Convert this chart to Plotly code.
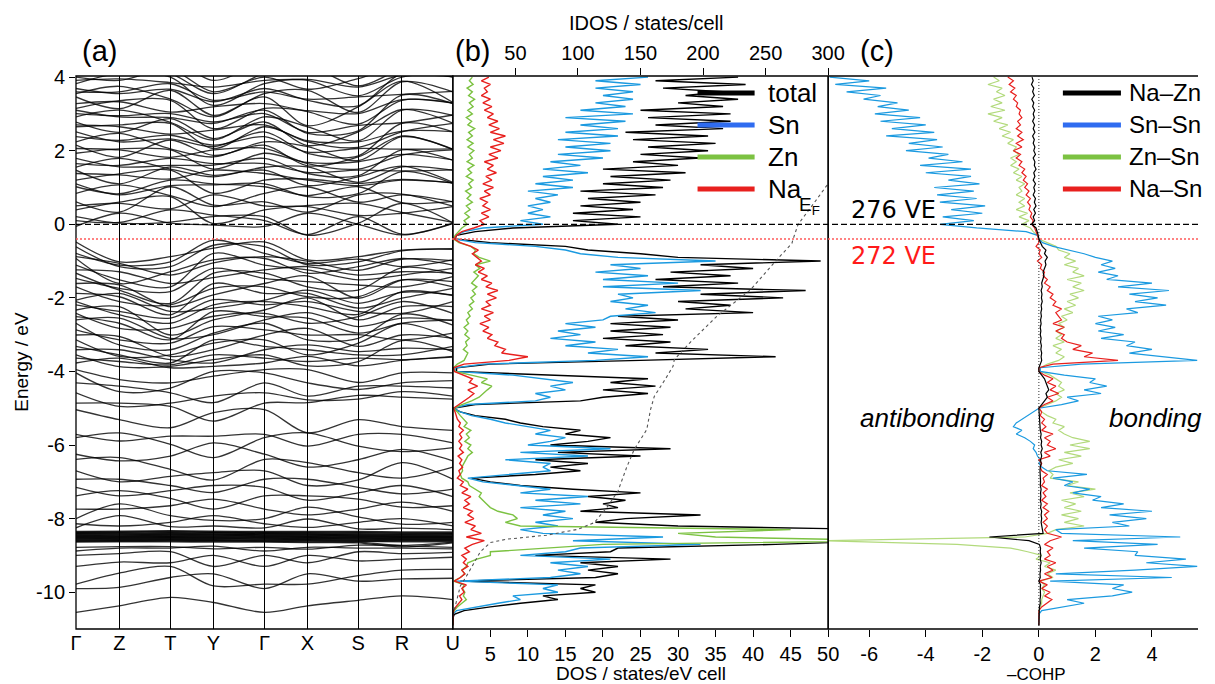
import numpy as np
import plotly.graph_objects as go

# ---------------- band structure: eigenvalues (eV) at the high-symmetry points ----------------
# each list is given in band order, so entry i of every k-point belongs to the same band line
kpoint_labels = ["Γ", "Z", "T", "Y", "Γ", "X", "S", "R", "U"]
kpoint_dist = [0.0, 0.115, 0.2505, 0.3647, 0.5, 0.6143, 0.749, 0.865, 1.0]
path = ["G", "Z", "T", "Y", "G", "X", "S", "R", "U"]

bands_low = {
    "G": [-10.55, -9.90, -9.78, -9.30, -9.00, -8.88, -8.78],
    "Z": [-10.37, -9.87, -9.48, -9.18, -8.95, -8.80, -8.76],
    "T": [-10.14, -9.60, -9.30, -9.20, -8.90, -8.80, -8.76],
    "Y": [-10.28, -9.50, -9.83, -9.00, -9.30, -8.75, -8.82],
    "X": [-10.37, -9.50, -9.78, -9.00, -9.20, -8.78, -8.83],
    "S": [-10.22, -9.70, -9.55, -9.15, -8.90, -8.80, -8.72],
    "R": [-10.10, -9.64, -9.40, -9.10, -8.95, -8.80, -8.74],
    "U": [-10.20, -9.62, -9.38, -9.05, -8.92, -8.82, -8.78],
}

bands_d = {
    "G": [-8.64, -8.62, -8.61, -8.59, -8.58, -8.56, -8.55, -8.53, -8.52, -8.50, -8.49, -8.47, -8.46, -8.44, -8.43, -8.41, -8.40, -8.38, -8.37, -8.35],
    "Z": [-8.63, -8.62, -8.60, -8.59, -8.57, -8.56, -8.54, -8.53, -8.51, -8.50, -8.48, -8.47, -8.45, -8.44, -8.42, -8.41, -8.39, -8.37, -8.36, -8.34],
    "T": [-8.63, -8.61, -8.60, -8.58, -8.57, -8.55, -8.54, -8.52, -8.51, -8.49, -8.48, -8.46, -8.45, -8.43, -8.42, -8.40, -8.39, -8.37, -8.35, -8.33],
    "Y": [-8.64, -8.62, -8.60, -8.59, -8.57, -8.56, -8.54, -8.53, -8.51, -8.50, -8.48, -8.46, -8.45, -8.43, -8.42, -8.40, -8.38, -8.37, -8.36, -8.34],
    "X": [-8.65, -8.63, -8.61, -8.60, -8.58, -8.57, -8.55, -8.54, -8.52, -8.51, -8.49, -8.48, -8.46, -8.45, -8.43, -8.42, -8.40, -8.39, -8.37, -8.35],
    "S": [-8.66, -8.64, -8.62, -8.61, -8.59, -8.58, -8.56, -8.55, -8.53, -8.52, -8.50, -8.49, -8.47, -8.46, -8.44, -8.43, -8.41, -8.39, -8.37, -8.35],
    "R": [-8.77, -8.73, -8.63, -8.61, -8.60, -8.58, -8.57, -8.55, -8.54, -8.52, -8.51, -8.49, -8.48, -8.46, -8.45, -8.43, -8.42, -8.40, -8.38, -8.36],
    "U": [-8.66, -8.64, -8.63, -8.61, -8.60, -8.58, -8.57, -8.55, -8.54, -8.52, -8.51, -8.49, -8.48, -8.46, -8.44, -8.43, -8.41, -8.40, -8.38, -8.36],
}

bands_mid = {
    "G": [-8.25, -8.14, -8.00, -7.74, -7.38, -7.15, -6.93, -6.70, -6.39, -6.25, -5.80, -5.71],
    "Z": [-7.92, -8.20, -7.60, -7.74, -7.24, -7.38, -6.93, -7.00, -6.34, -6.43, -5.67, -5.89],
    "T": [-8.22, -8.10, -7.92, -7.65, -7.45, -7.24, -7.10, -6.85, -6.66, -6.30, -5.98, -5.76],
    "Y": [-8.20, -7.92, -8.05, -7.47, -7.74, -7.10, -7.29, -6.75, -6.95, -5.94, -6.34, -5.76],
    "X": [-8.01, -8.24, -7.69, -7.90, -7.38, -7.50, -6.93, -7.10, -6.48, -6.60, -5.67, -6.03],
    "S": [-8.28, -8.10, -7.95, -7.74, -7.47, -7.30, -7.15, -6.95, -6.75, -6.40, -6.03, -5.71],
    "R": [-8.26, -8.00, -8.15, -7.55, -7.69, -7.10, -7.33, -6.48, -6.90, -6.12, -6.18, -5.71],
    "U": [-8.30, -8.20, -8.10, -7.80, -7.65, -7.40, -7.20, -6.93, -6.60, -6.43, -6.07, -5.94],
}

bands_sp = {
    "G": [-5.04, -4.86, -4.58, -4.31, -4.04, -3.95],
    "Z": [-5.31, -4.86, -4.95, -4.40, -4.55, -4.22],
    "T": [-5.53, -4.95, -4.86, -4.58, -4.45, -4.31],
    "Y": [-5.12, -5.35, -4.67, -4.85, -4.00, -4.13],
    "X": [-5.67, -4.85, -4.77, -4.67, -4.31, -3.95],
    "S": [-5.31, -4.65, -4.75, -4.40, -4.49, -4.30],
    "R": [-5.50, -4.70, -4.55, -4.40, -4.31, -4.04],
    "U": [-5.60, -4.75, -4.67, -4.45, -4.25, -4.04],
}

bands_valence = {
    "G": [-3.77, -3.64, -3.55, -3.41, -3.32, -3.14, -3.01, -2.87, -2.69, -2.60, -2.51, -2.42, -2.33, -2.19,
          -2.10, -2.06, -1.88, -1.70, -1.61, -1.47, -1.33, -1.24, -1.11, -0.93, -0.88, -0.79, -0.61, -0.48],
    "Z": [-3.64, -3.73, -3.87, -3.41, -3.55, -3.59, -3.05, -3.14, -3.28, -2.55, -2.69, -2.83, -2.24, -2.37,
          -2.46, -1.88, -1.97, -2.10, -1.65, -1.74, -1.79, -1.29, -1.51, -1.61, -1.06, -1.11, -1.15, -1.02],
    "T": [-3.90, -3.82, -3.86, -3.68, -3.77, -3.55, -3.59, -3.23, -3.41, -3.10, -3.14, -2.83, -3.01, -2.55,
          -2.69, -2.37, -2.46, -2.19, -2.24, -1.83, -2.15, -1.61, -1.70, -1.29, -1.38, -1.02, -1.15, -0.88],
    "Y": [-3.86, -3.55, -3.68, -3.77, -3.14, -3.23, -3.41, -2.78, -2.96, -3.00, -2.37, -2.50, -2.60, -2.05,
          -2.19, -2.28, -1.61, -1.74, -1.92, -1.20, -1.33, -1.45, -0.79, -0.97, -1.05, -0.43, -0.57, -0.65],
    "X": [-3.59, -3.73, -3.85, -3.28, -3.41, -3.55, -2.83, -3.01, -3.14, -2.40, -2.55, -2.69, -2.00, -2.10,
          -2.24, -1.79, -1.88, -1.97, -1.40, -1.56, -1.70, -1.15, -1.24, -1.33, -1.00, -1.06, -1.10, -0.97],
    "S": [-3.85, -3.64, -3.73, -3.46, -3.55, -3.23, -3.32, -3.00, -3.10, -2.78, -2.96, -2.51, -2.60, -2.37,
          -2.45, -2.15, -2.28, -1.97, -2.01, -1.65, -1.79, -1.38, -1.51, -1.15, -1.25, -0.95, -1.02, -0.88],
    "R": [-3.70, -3.68, -3.16, -3.37, -3.55, -2.70, -3.01, -3.14, -2.44, -2.55, -2.69, -2.10, -2.24, -2.42,
          -1.83, -1.85, -2.01, -1.51, -1.52, -1.70, -1.18, -1.29, -1.38, -0.93, -0.95, -1.15, -0.72, -0.70],
    "U": [-3.61, -3.59, -3.46, -3.41, -3.32, -3.12, -3.10, -2.96, -2.74, -2.62, -2.60, -2.42, -2.24, -2.10,
          -1.94, -1.92, -1.74, -1.70, -1.56, -1.42, -1.35, -1.33, -1.20, -1.11, -0.99, -0.97, -0.68, -0.66],
}

bands_conduction = {
    "G": [-0.06, 0.10, 0.21, 0.39, 0.50, 0.61, 0.84, 1.02, 1.10, 1.20, 1.38, 1.47, 1.55, 1.65, 1.79, 1.93, 2.06, 2.15, 2.24, 2.38,
          2.51, 2.65, 2.70, 2.78, 2.92, 3.01, 3.10, 3.15, 3.28, 3.46, 3.55, 3.60, 3.69, 3.82, 3.91, 4.00, 4.10, 4.20, 4.30, 4.40],
    "Z": [0.30, 0.05, 0.03, 0.60, 0.57, 0.33, 1.07, 0.83, 0.80, 1.37, 1.34, 1.10, 1.79, 1.60, 1.56, 2.05, 2.02, 1.82, 2.47, 2.28,
          2.24, 2.70, 2.65, 2.50, 3.10, 2.95, 2.92, 3.36, 3.33, 3.14, 3.75, 3.60, 3.55, 4.10, 3.95, 3.91, 4.40, 4.30, 4.20, 4.50],
    "T": [0.03, 0.39, 0.06, 0.75, 0.42, 1.02, 0.78, 1.20, 1.05, 1.47, 1.23, 1.56, 1.50, 1.79, 1.60, 2.02, 1.82, 2.29, 2.05, 2.42,
          2.32, 2.74, 2.45, 2.87, 2.77, 3.01, 2.90, 3.37, 3.05, 3.64, 3.40, 3.82, 3.67, 4.00, 3.85, 4.20, 4.10, 4.40, 4.30, 4.50],
    "Y": [-0.02, 0.25, 0.21, 0.02, 0.80, 0.52, 0.48, 1.10, 1.07, 0.84, 1.47, 1.33, 1.29, 1.65, 1.61, 1.50, 2.02, 1.87, 1.83, 2.15,
          2.11, 2.06, 2.56, 2.33, 2.29, 2.78, 2.74, 2.60, 3.19, 2.96, 2.92, 3.37, 3.33, 3.23, 3.73, 3.60, 3.55, 4.30, 4.10, 3.91],
    "X": [0.30, -0.28, -0.30, 0.51, 0.48, 0.33, 1.02, 0.78, 0.75, 1.23, 1.20, 1.05, 1.56, 1.41, 1.38, 1.68, 1.65, 1.59, 2.11, 1.96,
          1.93, 2.27, 2.24, 2.14, 2.65, 2.50, 2.47, 3.09, 3.06, 2.68, 3.64, 3.40, 3.37, 3.94, 3.91, 3.67, 4.30, 4.20, 4.10, 4.40],
    "S": [0.00, 0.21, 0.03, 0.57, 0.24, 0.80, 0.60, 1.02, 0.83, 1.11, 1.05, 1.29, 1.14, 1.47, 1.32, 1.70, 1.50, 1.83, 1.73, 2.06,
          1.86, 2.24, 2.09, 2.51, 2.27, 2.69, 2.54, 3.01, 2.72, 3.19, 3.04, 3.46, 3.22, 3.73, 3.49, 3.96, 3.76, 4.25, 4.10, 4.40],
    "R": [-0.29, -0.27, 0.57, 0.32, 0.30, 0.82, 0.80, 0.59, 1.43, 1.22, 1.20, 1.58, 1.56, 1.45, 2.02, 1.90, 1.88, 2.40, 2.38, 2.04,
          2.74, 2.53, 2.51, 3.12, 3.10, 2.76, 3.51, 3.39, 3.37, 3.89, 3.87, 3.53, 4.10, 4.05, 4.00, 4.30, 4.20, 4.15, 4.40, 4.50],
    "U": [0.02, 0.03, 0.04, 0.05, 0.48, 0.49, 0.61, 0.62, 1.11, 1.12, 1.13, 1.14, 1.47, 1.48, 1.74, 1.75, 2.02, 2.03, 2.04, 2.05,
          2.51, 2.52, 2.74, 2.75, 2.96, 2.97, 3.28, 3.29, 3.30, 3.31, 3.60, 3.61, 4.00, 4.01, 4.10, 4.15, 4.20, 4.30, 4.40, 4.50],
}

# ---------------- DOS (states/eV cell) on a 0.1 eV grid from -10.9 to 4.0 eV ----------------
energy = np.round(np.linspace(-10.9, 4.0, 150), 2)

dos_total = [
    0, 0, 0, 0.2, 1.5, 5, 9, 14, 12, 19,
    17, 19, 1, 19, 22, 18, 22, 17, 29, 11,
    21, 22, 43, 58, 62, 50, 58, 30, 19, 23,
    33, 17, 22, 20, 23, 18, 25, 16, 9, 5,
    2.5, 11, 17, 13, 18, 11, 25, 14, 29, 13,
    18, 21, 15, 17, 12, 9, 7, 3, 1, 0,
    3, 17, 20, 26, 20, 27, 21, 26, 12, 0.5,
    0.5, 5, 25, 43, 27, 34, 23, 29, 20, 28,
    21, 29, 21, 30, 22, 40, 31, 37, 30, 44,
    33, 47, 28, 38, 27, 37, 29, 40, 33, 49,
    30, 25, 18, 15, 5, 0.3, 0.5, 3, 8, 22,
    16, 25, 16, 24, 17, 25, 18, 27, 17, 28,
    20, 29, 21, 31, 20, 30, 24, 33, 25, 34,
    26, 35, 24, 34, 23, 36, 27, 37, 26, 37,
    25, 36, 30, 38, 31, 36, 28, 39, 27, 38,
]
dos_sn = [
    0, 0, 0, 0, 0.5, 3, 6, 9, 8, 14,
    12, 14, 0.5, 13, 17, 14, 18, 13, 21, 9,
    15, 17, 33, 16, 28, 12, 9, 14, 11, 16,
    12, 15, 9, 17, 11, 18, 9, 13, 8, 4,
    2, 8, 13, 12, 13, 7, 18, 9, 21, 10,
    13, 15, 11, 13, 10, 7, 5, 2.5, 1, 0,
    2, 11, 13, 11, 15, 13, 16, 12, 8, 0.3,
    0.3, 4, 19, 26, 18, 22, 15, 19, 13, 17,
    14, 19, 15, 20, 21, 27, 23, 26, 21, 24,
    22, 33, 20, 30, 20, 26, 19, 25, 21, 35,
    22, 17, 15, 11, 3, 0.2, 0.4, 1.5, 4, 12,
    9, 13, 10, 12, 10, 13, 11, 14, 10, 16,
    11, 16, 12, 18, 12, 17, 13, 20, 14, 21,
    15, 21, 14, 22, 15, 22, 17, 23, 15, 24,
    17, 23, 19, 24, 20, 24, 19, 25, 19, 26,
]
dos_zn = [
    0, 0, 0, 0, 0.2, 0.6, 1.2, 1.8, 1.4, 1.6,
    1.3, 1.5, 0.1, 1.0, 1.6, 1.2, 1.8, 2.0, 3.2, 5,
    5, 12, 20, 60, 35, 30, 45, 9, 7, 8.6,
    8, 6, 5, 4.5, 4, 3.5, 3.8, 3, 2.2, 2.0,
    1.2, 1.0, 1.3, 1.2, 1.5, 1.8, 2.0, 2.6, 2.0, 2.4,
    1.6, 2.2, 1.8, 2.4, 1.5, 1.9, 1.4, 1.0, 0.6, 0.1,
    1.2, 2.5, 3.5, 4.0, 4.6, 5.2, 3.8, 4.6, 2.6, 0.3,
    0.1, 0.6, 1.5, 1.8, 2.0, 1.4, 1.9, 1.7, 2.2, 1.6,
    2.0, 1.5, 2.1, 1.8, 2.3, 2.0, 2.6, 2.2, 2.8, 2.4,
    3.0, 2.6, 3.2, 2.5, 3.0, 3.4, 2.8, 3.6, 3.0, 5.0,
    3.5, 2.8, 3.0, 2.4, 0.8, 0.1, 0.3, 0.7, 1.2, 1.9,
    1.5, 2.2, 1.6, 2.3, 1.8, 2.6, 1.9, 2.4, 1.7, 2.5,
    2.1, 2.7, 1.8, 2.5, 2.0, 2.8, 1.9, 2.6, 2.2, 2.8,
    2.0, 2.7, 1.9, 2.6, 2.1, 2.9, 2.0, 2.5, 1.8, 2.6,
    2.0, 2.7, 2.2, 2.9, 2.1, 2.6, 1.9, 2.7, 2.2, 2.6,
]
dos_na = [
    0, 0, 0, 0, 0.1, 0.4, 0.8, 1.2, 0.9, 1.5,
    1.2, 1.8, 0.2, 1.0, 1.6, 1.2, 2.0, 1.4, 1.8, 1.2,
    2.2, 1.6, 2.6, 4.2, 1.8, 3.8, 2.4, 3.0, 1.6, 2.8,
    2.0, 2.6, 1.4, 2.2, 1.6, 2.4, 1.2, 2.0, 1.0, 1.4,
    0.6, 1.0, 0.8, 1.3, 0.9, 1.2, 0.7, 1.4, 0.9, 1.2,
    0.8, 1.2, 0.9, 1.4, 0.8, 1.0, 0.6, 0.5, 0.3, 0.1,
    0.8, 1.6, 2.2, 2.8, 2.0, 3.3, 2.2, 2.6, 1.4, 0.2,
    0.1, 1.5, 7.5, 10, 6.5, 7.0, 5.6, 6.0, 4.6, 5.2,
    4.0, 4.8, 3.6, 5.0, 4.2, 5.4, 3.8, 5.0, 4.4, 5.8,
    4.6, 6.0, 4.4, 5.2, 3.8, 4.6, 3.4, 4.2, 3.0, 3.8,
    3.2, 2.6, 3.4, 2.4, 1.0, 0.2, 0.5, 1.2, 2.8, 4.2,
    3.6, 4.8, 3.8, 5.0, 4.0, 4.6, 3.6, 5.0, 4.2, 5.4,
    4.0, 5.2, 4.4, 5.8, 4.6, 5.4, 4.2, 6.0, 4.8, 6.4,
    5.0, 6.8, 5.4, 7.0, 5.0, 6.2, 4.8, 6.0, 4.6, 5.4,
    4.2, 5.2, 4.0, 5.0, 3.8, 4.6, 4.2, 5.0, 3.8, 4.8,
]

# integrated DOS (states/cell)
idos_energy = [-10.64, -10.2, -9.83, -9.5, -9.19, -8.9, -8.65, -8.56, -8.45, -8.29, -8.11, -7.66, -7.25, -6.6,
               -6.12, -5.58, -5.04, -4.68, -4.2, -3.86, -3.68, -3.2, -2.5, -1.78, -1.0, -0.52, -0.4, 0.0, 0.5, 1.15]
idos_value = [0, 3, 6, 12, 17, 22, 30, 43, 75, 100, 113, 124, 132, 139,
              145, 155, 158, 161, 170, 176, 177, 190, 211, 238, 258, 271, 272, 276, 287, 301]

# ---------------- -COHP on the same energy grid ----------------
cohp_sn_sn = [
    0, 0, 0, 0, 0.1, 0.8, 1.6, 1.0, 2.6, 3.3,
    2.6, 3.0, 0.4, 4.7, 0.6, 3.4, 5.6, 3.8, 5.2, 3.4,
    3.5, 1.6, 4.2, 1.2, 5.0, 0.8, 0.6, 3.2, 2.6, 3.8,
    2.5, 4.0, 2.2, 3.0, 1.9, 2.2, 1.2, 1.8, 0.9, 1.2,
    0.5, 1.7, 0.3, 0.1, 0.0, 0.05, -0.05, -0.1, -0.2, -0.15,
    -0.3, -0.5, -0.8, -0.6, -0.9, -0.8, -0.6, -0.4, -0.2, 0,
    0.8, 1.4, 1.0, 2.2, 1.6, 2.4, 1.8, 2.0, 0.9, 0.05,
    0.05, 1.5, 5.6, 4.3, 3.2, 4.0, 3.1, 3.4, 2.2, 3.0,
    2.1, 2.7, 2.0, 2.6, 2.1, 3.5, 3.1, 4.5, 3.4, 4.2,
    3.2, 4.6, 2.8, 4.0, 2.4, 2.8, 2.1, 2.7, 2.2, 2.6,
    2.0, 1.6, 1.0, 0.5, 0.13, 0.0, -0.05, -0.45, -2.2, -3.5,
    -2.3, -3.4, -2.0, -3.1, -1.9, -3.5, -2.2, -3.6, -2.3, -3.7,
    -2.1, -3.2, -2.4, -4.0, -2.4, -4.2, -2.7, -3.9, -3.2, -4.7,
    -3.4, -4.6, -3.6, -5.4, -3.7, -5.2, -4.0, -5.6, -4.2, -5.8,
    -4.6, -5.7, -5.0, -6.2, -5.6, -6.8, -5.4, -7.2, -6.0, -7.4,
]
cohp_zn_sn = [
    0, 0, 0, 0, 0, 0.05, 0.1, 0.1, 0.15, 0.2,
    0.1, 0.2, 0.05, 0.5, 0.3, 0.6, 0.2, 0.4, -0.1, 0.1,
    -0.4, -1.0, -2.9, -7.6, -0.5, 0.3, 0.6, 1.6, 0.9, 1.4,
    0.8, 1.5, 0.9, 1.3, 0.8, 1.6, 1.1, 2.0, 1.0, 1.4,
    0.4, 0.5, 0.35, 0.6, 1.2, 0.7, 1.5, 0.9, 1.8, 1.1,
    1.8, 1.2, 0.9, 0.7, 0.9, 0.5, 0.6, 0.3, 0.1, 0,
    0.3, 0.6, 0.8, 0.6, 0.9, 0.7, 0.8, 0.6, 0.4, 0.05,
    0.05, 0.3, 0.7, 0.9, 0.6, 0.8, 0.5, 0.9, 0.6, 0.8,
    0.6, 0.9, 0.7, 1.0, 0.8, 1.2, 0.9, 1.3, 1.0, 1.4,
    1.1, 1.6, 1.2, 1.5, 1.0, 1.6, 1.2, 1.4, 0.9, 1.3,
    0.9, 1.1, 0.7, 0.6, 0.3, 0, -0.05, -0.2, -0.3, -0.6,
    -0.35, -0.7, -0.4, -0.8, -0.5, -0.7, -0.5, -0.8, -0.6, -0.7,
    -0.5, -0.8, -0.6, -0.9, -0.7, -1.0, -0.8, -1.0, -0.7, -0.9,
    -0.8, -1.1, -0.9, -1.3, -1.0, -1.4, -1.1, -1.6, -1.3, -1.8,
    -1.2, -1.7, -1.3, -1.6, -1.2, -1.5, -1.3, -1.8, -1.4, -1.6,
]
cohp_na_sn = [
    0, 0, 0, 0, 0, 0.1, 0.3, 0.46, 0.2, 0.4,
    0.1, 0.3, 0.0, 0.46, 0.2, 0.5, 0.3, 0.6, 0.2, 0.4,
    0.3, 0.5, 0.2, 0.4, 0.8, 0.3, 0.2, 0.3, 0.15, 0.3,
    0.2, 0.35, 0.15, 0.3, 0.1, 0.25, 0.15, 0.3, 0.1, 0.2,
    0.15, 0.3, 0.1, 0.05, 0.1, 0.0, 0.4, 0.2, 0.6, 0.3,
    0.4, 0.2, 0.5, 0.1, 0.25, 0.1, 0.2, 0.05, 0.1, 0,
    0.2, 0.5, 0.3, 0.7, 0.4, 0.6, 0.3, 0.5, 0.2, 0.0,
    0.0, 0.5, 2.8, 1.6, 1.9, 1.2, 1.5, 1.0, 0.8, 0.9,
    0.6, 0.9, 0.5, 0.8, 0.7, 0.6, 0.8, 0.5, 0.6, 0.4,
    0.5, 0.3, 0.4, 0.2, 0.3, 0.15, 0.2, 0.05, 0.1, -0.05,
    0.1, 0.0, 0.05, -0.1, 0.0, 0.0, -0.05, -0.1, -0.15, -0.25,
    -0.2, -0.3, -0.25, -0.35, -0.3, -0.4, -0.3, -0.45, -0.35, -0.5,
    -0.4, -0.55, -0.45, -0.6, -0.5, -0.7, -0.6, -0.8, -0.65, -0.9,
    -0.6, -0.8, -0.55, -0.75, -0.6, -0.8, -0.65, -0.75, -0.6, -0.7,
    -0.65, -0.8, -0.75, -0.9, -0.8, -1.0, -0.85, -1.05, -0.9, -1.1,
]
cohp_na_zn = [
    0, 0, 0, 0, 0, 0.02, 0.05, 0.04, 0.06, 0.05,
    0.05, 0.06, 0, 0.05, 0.04, 0.06, 0.05, 0.08, 0.05, 0.07,
    0.05, 0.06, 0.02, -0.35, -1.75, 0.15, 0.12, 0.1, 0.08, 0.1,
    0.08, 0.1, 0.06, 0.08, 0.05, 0.07, 0.06, 0.08, 0.05, 0.06,
    0.05, 0.06, 0.04, 0.05, 0.08, 0.06, 0.1, 0.07, 0.12, 0.08,
    0.1, 0.06, 0.08, 0.05, 0.04, 0.03, 0.02, 0.02, 0.01, 0,
    0.1, 0.2, 0.3, 0.25, 0.35, 0.3, 0.25, 0.2, 0.1, 0,
    0, 0.05, 0.1, 0.08, 0.1, 0.07, 0.09, 0.06, 0.08, 0.05,
    0.07, 0.05, 0.08, 0.06, 0.09, 0.07, 0.1, 0.08, 0.12, 0.09,
    0.11, 0.08, 0.12, 0.1, 0.15, 0.18, 0.15, 0.2, 0.25, 0.22,
    0.3, 0.2, 0.25, 0.12, 0.05, 0, -0.02, -0.05, -0.1, -0.25,
    -0.15, -0.2, -0.12, -0.18, -0.1, -0.16, -0.12, -0.2, -0.14, -0.18,
    -0.12, -0.2, -0.14, -0.18, -0.1, -0.16, -0.14, -0.2, -0.12, -0.18,
    -0.14, -0.2, -0.16, -0.22, -0.14, -0.2, -0.15, -0.22, -0.16, -0.2,
    -0.15, -0.22, -0.18, -0.25, -0.16, -0.22, -0.18, -0.26, -0.2, -0.24,
]

for series in (dos_total, dos_sn, dos_zn, dos_na, cohp_sn_sn, cohp_zn_sn, cohp_na_sn, cohp_na_zn):
    assert len(series) == len(energy)

# ---------------- styling ----------------
SANS = "Liberation Sans, Arial, sans-serif"
C_TOTAL = "#000000"
C_SN = "#1b9ae0"
C_SN_KEY = "#2f6cf0"
C_ZN = "#7cc242"
C_ZN_LIGHT = "#b2da7c"
C_NA = "#e8201e"

E_MIN, E_MAX = -11.0, 4.03

# canvas and plot-area geometry in pixels (used to place text and keys);
# the drawable plot area ends about 18 px short of the canvas edge
W, H = 1215, 684
L, R, T, B = 76, 0, 76, 54.5
PW, PH = W - L - R - 18, H - T - B


def px_x(px):
    return (px - L) / PW


def px_y(py):
    return (H - B - py) / PH


# -COHP axis: 0 at x=1038 px, 28.25 px per unit
COHP_RANGE = [(827.5 - 1038) / 28.25, (L + PW - 1038) / 28.25]

dom_a = [0.0, px_x(452.5)]
dom_b = [px_x(452.5), px_x(827.5)]
dom_c = [px_x(827.5), 1.0]


def band_lines(levels):
    cols = [levels[p] for p in path]
    xs, ys = [], []
    for i in range(len(cols[0])):
        xs += kpoint_dist + [None]
        ys += [c[i] for c in cols] + [None]
    return xs, ys


fig = go.Figure()

# (a) band structure
for group in (bands_low, bands_d, bands_mid, bands_sp, bands_valence, bands_conduction):
    bx, by = band_lines(group)
    fig.add_trace(go.Scatter(x=bx, y=by, mode="lines", xaxis="x", yaxis="y",
                             line=dict(color="rgba(0,0,0,0.8)", width=1.3, shape="spline", smoothing=0.9),
                             hoverinfo="skip", showlegend=False))

# (b) DOS and IDOS
fig.add_trace(go.Scatter(x=idos_value, y=idos_energy, mode="lines", xaxis="x4", yaxis="y",
                         line=dict(color="#555555", width=1.1, dash="3px,3px"), showlegend=False))
for vals, col in ((dos_total, C_TOTAL), (dos_sn, C_SN), (dos_zn, C_ZN), (dos_na, C_NA)):
    fig.add_trace(go.Scatter(x=vals, y=energy, mode="lines", xaxis="x2", yaxis="y",
                             line=dict(color=col, width=1.4), showlegend=False))

# (c) -COHP
for vals, col in ((cohp_zn_sn, C_ZN_LIGHT), (cohp_sn_sn, C_SN), (cohp_na_sn, C_NA), (cohp_na_zn, C_TOTAL)):
    fig.add_trace(go.Scatter(x=vals, y=energy, mode="lines", xaxis="x3", yaxis="y",
                             line=dict(color=col, width=1.2), showlegend=False))

tickfont = dict(family=SANS, size=20, color="black")
yticks = [-10, -8, -6, -4, -2, 0, 2, 4]

fig.update_layout(
    width=W, height=H, margin=dict(l=L, r=R, t=T, b=B),
    paper_bgcolor="white", plot_bgcolor="white", showlegend=False,
    xaxis=dict(domain=dom_a, range=[0, 1], anchor="y", tickvals=kpoint_dist, ticktext=kpoint_labels,
               ticks="", showgrid=True, gridcolor="black", gridwidth=1.2, zeroline=False,
               showline=False, tickfont=tickfont),
    xaxis2=dict(domain=dom_b, range=[0, 50], anchor="y", tickvals=list(range(5, 51, 5)),
                ticks="outside", ticklen=7, tickcolor="black", showgrid=False, zeroline=False,
                showline=False, tickfont=tickfont),
    xaxis3=dict(domain=dom_c, range=COHP_RANGE, anchor="y", tickvals=[-6, -4, -2, 0, 2, 4, 6],
                ticktext=["-6", "-4", "-2", "0", "2", "4", "6"], ticks="outside", ticklen=7,
                tickcolor="black", showgrid=False, zeroline=False, showline=False, tickfont=tickfont),
    xaxis4=dict(overlaying="x2", side="top", anchor="y", range=[0, 300],
                tickvals=[50, 100, 150, 200, 250, 300], ticks="outside", ticklen=7, tickcolor="black",
                showgrid=False, zeroline=False, showline=False, tickfont=tickfont),
    yaxis=dict(domain=[0, 1], range=[E_MIN, E_MAX], anchor="x", tickvals=yticks,
               ticktext=[str(v) for v in yticks], ticks="outside", ticklen=6, tickcolor="black",
               showgrid=False, zeroline=False, showline=False, tickfont=tickfont),
    yaxis2=dict(overlaying="y", anchor="x3", side="left", range=[E_MIN, E_MAX], tickvals=yticks,
                ticks="inside", ticklen=8, tickcolor="black", showticklabels=False,
                showgrid=False, zeroline=False, showline=False),
    yaxis3=dict(overlaying="y", anchor="x2", side="right", range=[E_MIN, E_MAX], tickvals=yticks,
                ticks="inside", ticklen=6, tickcolor="black", showticklabels=False,
                showgrid=False, zeroline=False, showline=False),
)

shapes = []
# panel frames
for d in (dom_a, dom_b):
    shapes.append(dict(type="rect", xref="paper", yref="paper", x0=d[0], x1=d[1], y0=0, y1=1,
                       line=dict(color="black", width=1.3), fillcolor="rgba(0,0,0,0)"))
for (x0, y0, x1, y1) in ((dom_c[0], 0, dom_c[1], 0), (dom_c[0], 1, dom_c[1], 1), (dom_c[0], 0, dom_c[0], 1)):
    shapes.append(dict(type="line", xref="paper", yref="paper", x0=x0, y0=y0, x1=x1, y1=y1,
                       line=dict(color="black", width=1.3)))
# Fermi level (276 VE) and the 272 VE level
shapes.append(dict(type="line", xref="paper", yref="y", x0=0, x1=1, y0=0, y1=0,
                   line=dict(color="black", width=1.2, dash="6px,3px")))
shapes.append(dict(type="line", xref="paper", yref="y", x0=0, x1=1, y0=-0.4, y1=-0.4,
                   line=dict(color="#ff5a5a", width=1.6, dash="2px,2px")))
# zero line of -COHP
shapes.append(dict(type="line", xref="x3", yref="paper", x0=0, x1=0, y0=0, y1=1,
                   line=dict(color="#333333", width=1, dash="1px,2px")))

annotations = []


def text(x, y, s, size, color="black", family=SANS, xanchor="center", italic=False, angle=0):
    annotations.append(dict(x=px_x(x), y=px_y(y), xref="paper", yref="paper", text=s, showarrow=False,
                            xanchor=xanchor, yanchor="middle", textangle=angle,
                            font=dict(family=family, size=size, color=color,
                                      style="italic" if italic else "normal")))


# legend keys
dos_keys = [("total", C_TOTAL), ("Sn", C_SN_KEY), ("Zn", C_ZN), ("Na", C_NA)]
cohp_keys = [("Na–Zn", C_TOTAL), ("Sn–Sn", C_SN_KEY), ("Zn–Sn", C_ZN), ("Na–Sn", C_NA)]
key_rows = [93, 125, 157, 189]
for (name, col), yy in zip(dos_keys, key_rows):
    shapes.append(dict(type="line", xref="paper", yref="paper", x0=px_x(697), x1=px_x(754),
                       y0=px_y(yy), y1=px_y(yy), line=dict(color=col, width=5)))
    text(765, yy, name, 26, xanchor="left")
for (name, col), yy in zip(cohp_keys, key_rows):
    shapes.append(dict(type="line", xref="paper", yref="paper", x0=px_x(1062), x1=px_x(1120),
                       y0=px_y(yy), y1=px_y(yy), line=dict(color=col, width=5)))
    text(1126, yy, name, 24, xanchor="left")

text(99, 51, "(a)", 29)
text(472, 51, "(b)", 29)
text(876, 51, "(c)", 29)
text(22, 362, "Energy / eV", 19, angle=-90)
text(640, 674, "DOS / states/eV cell", 19)
text(1036, 675, "–COHP", 17)
text(646, 23, "IDOS / states/cell", 20)
text(809, 206, "E<sub>F</sub>", 19)
text(893, 210, "276 VE", 24, family="DejaVu Sans")
text(893, 256, "272 VE", 24, color="#ff1a1a", family="DejaVu Sans")
text(927, 418, "antibonding", 26, italic=True)
text(1155, 418, "bonding", 26, italic=True)

fig.update_layout(shapes=shapes, annotations=annotations)
fig.write_html("out.html")
